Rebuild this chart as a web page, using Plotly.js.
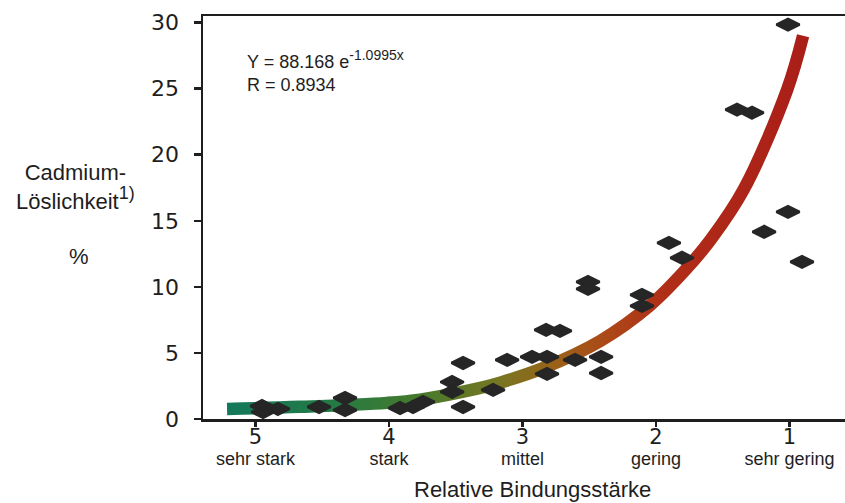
<!DOCTYPE html>
<html>
<head>
<meta charset="utf-8">
<script src="https://cdn.plot.ly/plotly-3.0.1.min.js"></script>
<style>
  html, body { margin: 0; padding: 0; background: #ffffff; }
  #chart { width: 845px; height: 503px; }
</style>
</head>
<body>
<div id="chart"></div>
<script>
// ---- data ----
var pointX = [4.951, 4.943, 4.831, 4.524, 4.329, 4.329, 3.917, 3.820, 3.745, 3.527,
              3.527, 3.445, 3.445, 3.220, 3.115, 2.928, 2.823, 2.719, 2.816, 2.816,
              2.606, 2.411, 2.411, 2.509, 2.509, 2.105, 2.105, 1.903, 1.805, 1.393,
              1.280, 1.190, 1.011, 0.906, 1.011];
var pointY = [0.98, 0.53, 0.76, 0.91, 1.59, 0.68, 0.83, 0.91, 1.29, 2.80,
              2.05, 4.24, 0.91, 2.20, 4.47, 4.70, 6.74, 6.67, 4.70, 3.41,
              4.47, 4.70, 3.48, 10.38, 9.85, 9.39, 8.56, 13.33, 12.20, 23.41,
              23.18, 14.17, 15.68, 11.89, 29.85];

var curveX = [5.213, 4.667, 4.015, 3.767, 3.340, 3.168, 2.846, 2.419, 2.045, 1.769, 1.588, 1.341, 1.018, 0.898];
var curveY = [0.76, 0.92, 1.22, 1.47, 2.30, 2.75, 3.85, 5.90, 8.60, 11.40, 13.60, 17.40, 24.90, 29.00];

var xTickVals = [5, 4, 3, 2, 1];
var xTickWords = ['sehr stark', 'stark', 'mittel', 'gering', 'sehr gering'];
var yTickVals = [0, 5, 10, 15, 20, 25, 30];

var equationMain = 'Y = 88.168 e';
var equationExp = '-1.0995x';
var rText = 'R = 0.8934';
var yTitleMain = ['Cadmium-', 'Löslichkeit'];
var yTitleNote = '1)';
var yTitleUnit = '%';
var xTitle = 'Relative Bindungsstärke';

// ---- build ----
var digitFont = 'DejaVu Sans';
var textFont = 'Liberation Sans, Arial, sans-serif';
var ink = '#1e1e1e';

var xTickText = xTickVals.map(function (v, i) {
  return '<span style="font-family:' + digitFont + ';font-size:21px">' + v + '</span><br>' +
         '<span style="font-size:18px">' + xTickWords[i] + '</span>';
});

var curve = {
  x: curveX, y: curveY, type: 'scatter', mode: 'lines',
  line: { color: '#9a5a18', width: 12.5, shape: 'spline', smoothing: 1 },
  hoverinfo: 'skip', showlegend: false
};
var points = {
  x: pointX, y: pointY, type: 'scatter', mode: 'markers',
  marker: { symbol: 'diamond-wide', size: 16.5, color: '#262626', line: { color: '#262626', width: 2.5 } },
  showlegend: false
};

var xRange = [5.393, 0.584];
var yRange = [0, 30.5];

var layout = {
  width: 845, height: 503,
  margin: { l: 203, r: 0, t: 16, b: 84 },
  paper_bgcolor: '#ffffff', plot_bgcolor: '#ffffff',
  showlegend: false,
  xaxis: {
    range: xRange, autorange: false,
    tickvals: xTickVals, ticktext: xTickText,
    ticks: 'outside', ticklen: 5, tickwidth: 2.5, tickcolor: ink,
    ticklabelstandoff: -2,
    showline: true, linewidth: 2.5, linecolor: ink, mirror: true,
    showgrid: false, zeroline: false,
    tickfont: { family: textFont, size: 16, color: ink }
  },
  xaxis2: {
    overlaying: 'x', range: xRange, autorange: false,
    tickvals: xTickVals, ticks: 'inside', ticklen: 6, tickwidth: 2.5, tickcolor: ink,
    showticklabels: false, showline: false, showgrid: false, zeroline: false
  },
  yaxis: {
    range: yRange, autorange: false,
    tickvals: yTickVals,
    ticks: 'outside', ticklen: 7, tickwidth: 2.5, tickcolor: ink,
    showline: true, linewidth: 2.5, linecolor: ink,
    showgrid: false, zeroline: false,
    ticklabelstandoff: 10,
    tickfont: { family: digitFont, size: 22, color: ink }
  },
  yaxis2: {
    overlaying: 'y', range: yRange, autorange: false,
    tickvals: yTickVals, ticks: 'inside', ticklen: 10, tickwidth: 2.5, tickcolor: ink,
    showticklabels: false, showline: false, showgrid: false, zeroline: false
  },
  annotations: [
    {
      xref: 'paper', yref: 'paper', x: 0.066, y: 0.927, xanchor: 'left', yanchor: 'top',
      text: equationMain + '<sup><span style="font-size:14px">' + equationExp + '</span></sup><br>' + rText,
      align: 'left', showarrow: false,
      font: { family: textFont, size: 18, color: ink }
    },
    {
      xref: 'paper', yref: 'paper', x: -0.198, y: 0.503, xanchor: 'center', yanchor: 'bottom',
      text: yTitleMain[0] + '<br>' + yTitleMain[1] + '<sup><span style="font-size:18px">' + yTitleNote + '</span></sup>',
      align: 'center', showarrow: false,
      font: { family: textFont, size: 22, color: ink }
    },
    {
      xref: 'paper', yref: 'paper', x: -0.193, y: 0.402, xanchor: 'center', yanchor: 'middle',
      text: yTitleUnit, showarrow: false,
      font: { family: textFont, size: 22, color: ink }
    },
    {
      xref: 'paper', yref: 'paper', x: 0.514, y: -0.174, xanchor: 'center', yanchor: 'middle',
      text: xTitle, showarrow: false,
      font: { family: textFont, size: 22, color: ink }
    }
  ]
};

Plotly.newPlot('chart', [curve, points], layout, { staticPlot: true, displayModeBar: false }).then(function (gd) {
  var ns = 'http://www.w3.org/2000/svg';
  var svg = gd.querySelector('.main-svg');
  var defs = svg.querySelector('defs');
  if (!defs) { defs = document.createElementNS(ns, 'defs'); svg.insertBefore(defs, svg.firstChild); }
  var grad = document.createElementNS(ns, 'linearGradient');
  grad.setAttribute('id', 'cdGrad');
  grad.setAttribute('x1', '0'); grad.setAttribute('y1', '0');
  grad.setAttribute('x2', '1'); grad.setAttribute('y2', '0');
  [['0%', '#14785c'], ['18%', '#237a44'], ['34%', '#487a2c'], ['47%', '#767622'],
   ['57%', '#9a6218'], ['66%', '#ac4818'], ['76%', '#b02e18'], ['100%', '#aa1e18']].forEach(function (s) {
    var st = document.createElementNS(ns, 'stop');
    st.setAttribute('offset', s[0]); st.setAttribute('stop-color', s[1]);
    grad.appendChild(st);
  });
  defs.appendChild(grad);
  var path = gd.querySelector('.scatterlayer .trace path.js-line');
  if (path) { path.style.stroke = 'url(#cdGrad)'; }
});
</script>
</body>
</html>
